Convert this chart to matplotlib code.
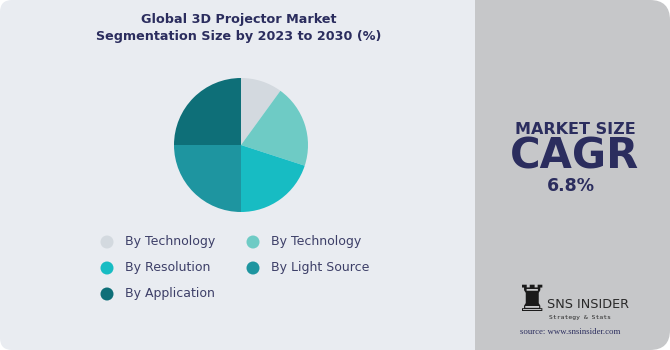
import matplotlib.pyplot as plt
from matplotlib.patches import FancyBboxPatch, Rectangle, Circle

# segment shares (%)
labels = ["By Technology", "By Technology", "By Resolution", "By Light Source", "By Application"]
shares = [10, 20, 20, 25, 25]
colors = ["#d3d9df", "#6ecbc5", "#17bcc3", "#1e95a0", "#0e6f78"]

title = "Global 3D Projector Market\nSegmentation Size by 2023 to 2030 (%)"
cagr = "6.8%"

W, H = 670, 350
navy = "#2b2d5e"

fig = plt.figure(figsize=(W / 100, H / 100), dpi=100)
fig.patch.set_facecolor("white")

# background panels
bg = fig.add_axes([0, 0, 1, 1])
bg.set_xlim(0, W)
bg.set_ylim(H, 0)
bg.axis("off")
bg.add_patch(FancyBboxPatch((0, 0), W - 20, H, boxstyle="round,pad=0,rounding_size=12",
                            fc="#e9ecf1", ec="none"))
bg.add_patch(FancyBboxPatch((475, 0), W - 475, H, boxstyle="round,pad=0,rounding_size=20",
                            fc="#c6c7c9", ec="none"))
bg.add_patch(Rectangle((475, 0), 30, H, fc="#c6c7c9", ec="none"))

# title
bg.text(239, 28, title, ha="center", va="center", fontsize=9.2,
        fontweight="bold", color=navy, linespacing=1.45)

# pie
cx, cy, r = 241, 145, 67
ax = fig.add_axes([(cx - r) / W, 1 - (cy + r) / H, 2 * r / W, 2 * r / H])
ax.pie(shares, colors=colors, startangle=90, counterclock=False,
       wedgeprops=dict(linewidth=0))
ax.set_aspect("auto")
ax.set_xlim(-1, 1)
ax.set_ylim(-1, 1)

# legend
pos = [(107, 242), (253, 242), (107, 268), (253, 268), (107, 294)]
for (x, y), lab, col in zip(pos, labels, colors):
    bg.add_patch(Circle((x, y), 6.5, fc=col, ec="none"))
    bg.text(x + 18, y, lab, ha="left", va="center", fontsize=9, color="#3d3f68")

# right panel text
bg.text(575, 134, "MARKET SIZE", ha="center", va="baseline", fontsize=11.5,
        fontweight="bold", color=navy)
bg.text(574, 168.5, "CAGR", ha="center", va="baseline", fontsize=30,
        fontweight="heavy", color=navy)
bg.text(571, 191, cagr, ha="center", va="baseline", fontsize=12.5,
        fontweight="bold", color=navy)

# logo
bg.text(532, 301, "\u265c", ha="center", va="center", fontsize=26, color="#1a1a1a")
bg.text(547, 305, "SNS INSIDER", ha="left", va="center", fontsize=9.2, color="#2a2a2a")
bg.text(549, 317, "Strategy & Stats", ha="left", va="center", fontsize=4.6,
        color="#2a2a2a", family="DejaVu Sans Mono")
bg.text(570, 332, "source: www.snsinsider.com", ha="center", va="center", fontsize=6.3,
        color="#2b2d5e", family="Liberation Serif")

fig.savefig("out.png", dpi=100, facecolor="white")
